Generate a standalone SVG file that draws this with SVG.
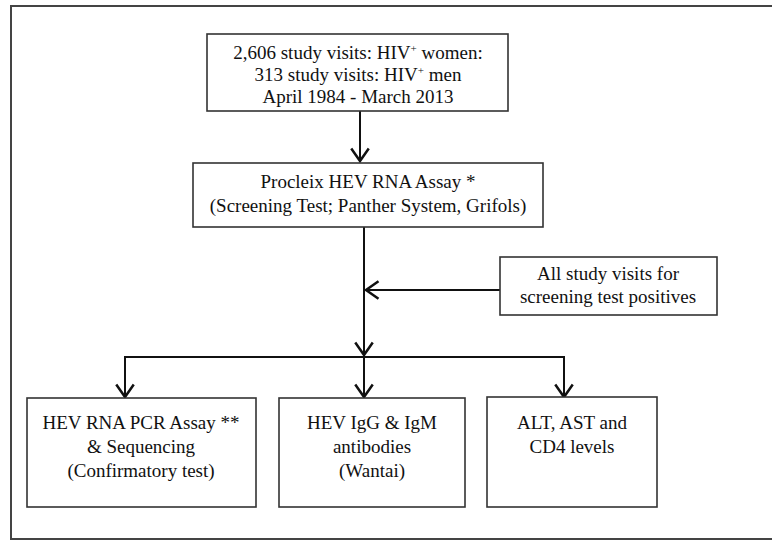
<svg xmlns="http://www.w3.org/2000/svg" width="772" height="543" viewBox="0 0 772 543">
<style>
.box{fill:#fff;stroke:#333;stroke-width:1.6}
.t{font-family:"Liberation Serif","Times New Roman",serif;font-size:19px;fill:#111;text-anchor:middle}
.c{fill:none;stroke:#111;stroke-width:2}
</style>
<defs>
<marker id="ah" markerUnits="userSpaceOnUse" markerWidth="20" markerHeight="20" viewBox="-12 -8 14 16" refX="0" refY="0" orient="auto">
<path d="M-10,-7 L0,0 L-10,7" fill="none" stroke="#111" stroke-width="2"/>
</marker>
</defs>
<rect x="11" y="6" width="775" height="533" fill="#fff" stroke="#444" stroke-width="2"/>
<g id="connectors">
<line class="c" x1="360" y1="111" x2="360" y2="161" marker-end="url(#ah)"/>
<line class="c" x1="364" y1="227" x2="364" y2="355" marker-end="url(#ah)"/>
<line class="c" x1="500" y1="290" x2="366" y2="290" marker-end="url(#ah)"/>
<polyline class="c" points="125,397 125,357 564,357 564,397"/>
<line class="c" x1="125" y1="357" x2="125" y2="397" marker-end="url(#ah)"/>
<line class="c" x1="364" y1="357" x2="364" y2="397" marker-end="url(#ah)"/>
<line class="c" x1="564" y1="357" x2="564" y2="397" marker-end="url(#ah)"/>
</g>
<g id="n1">
<rect class="box" x="207" y="34" width="301" height="77"/>
<text class="t" x="358" y="59">2,606 study visits: HIV<tspan font-size="11" dy="-7">+</tspan><tspan dy="7"> women:</tspan></text>
<text class="t" x="358" y="81">313 study visits: HIV<tspan font-size="11" dy="-7">+</tspan><tspan dy="7"> men</tspan></text>
<text class="t" x="358" y="103">April 1984 - March 2013</text>
</g>
<g id="n2">
<rect class="box" x="193" y="163" width="350" height="64"/>
<text class="t" x="368" y="188">Procleix HEV RNA Assay *</text>
<text class="t" x="368" y="212">(Screening Test; Panther System, Grifols)</text>
</g>
<g id="n3">
<rect class="box" x="500" y="257" width="217" height="58"/>
<text class="t" x="608" y="280">All study visits for</text>
<text class="t" x="608" y="303">screening test positives</text>
</g>
<g id="n4">
<rect class="box" x="27" y="398" width="229" height="109"/>
<text class="t" x="141" y="429">HEV RNA PCR Assay **</text>
<text class="t" x="141" y="453">&amp; Sequencing</text>
<text class="t" x="141" y="477">(Confirmatory test)</text>
</g>
<g id="n5">
<rect class="box" x="279" y="398" width="186" height="109"/>
<text class="t" x="372" y="429">HEV IgG &amp; IgM</text>
<text class="t" x="372" y="453">antibodies</text>
<text class="t" x="372" y="477">(Wantai)</text>
</g>
<g id="n6">
<rect class="box" x="487" y="397" width="170" height="110"/>
<text class="t" x="572" y="429">ALT, AST and</text>
<text class="t" x="572" y="453">CD4 levels</text>
</g>
</svg>
